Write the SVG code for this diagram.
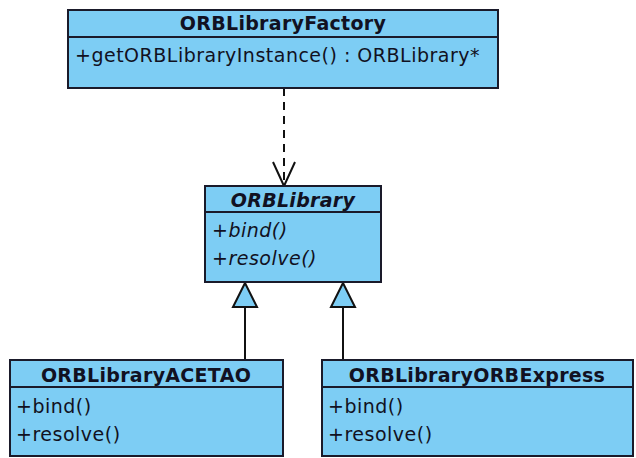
<svg xmlns="http://www.w3.org/2000/svg" width="636" height="458" viewBox="0 0 636 458">
<style>
.box{fill:#7dcdf4;stroke:#1a1a2a;stroke-width:2}
.sep{stroke:#1a1a2a;stroke-width:2}
.title{font-family:"DejaVu Sans",sans-serif;font-size:19px;font-weight:bold;fill:#111122;text-anchor:middle;letter-spacing:0.3px}
.op{font-family:"DejaVu Sans",sans-serif;font-size:19px;fill:#111122;letter-spacing:0.5px}
.it{font-style:italic}
.conn{stroke:#111;stroke-width:2;fill:none}
</style>
<rect width="636" height="458" fill="#fff"/>
<g id="connectors">
<line class="conn" x1="284" y1="88" x2="284" y2="185" stroke-dasharray="8,6"/>
<path class="conn" d="M273,162 L284,186 L295,162"/>
<line class="conn" x1="245" y1="307" x2="245" y2="360"/>
<polygon points="245,283 233,307 257,307" fill="#7dcdf4" stroke="#111" stroke-width="2"/>
<line class="conn" x1="343" y1="307" x2="343" y2="360"/>
<polygon points="343,283 331,307 355,307" fill="#7dcdf4" stroke="#111" stroke-width="2"/>
</g>
<g id="ORBLibraryFactory">
<rect class="box" x="68" y="10" width="430" height="78"/>
<line class="sep" x1="68" y1="37" x2="498" y2="37"/>
<text class="title" x="283" y="30">ORBLibraryFactory</text>
<text class="op" x="75" y="62">+getORBLibraryInstance() : ORBLibrary*</text>
</g>
<g id="ORBLibrary">
<rect class="box" x="205" y="186" width="176" height="96"/>
<line class="sep" x1="205" y1="212" x2="381" y2="212"/>
<text class="title it" x="293" y="207">ORBLibrary</text>
<text class="op it" x="212" y="237">+bind()</text>
<text class="op it" x="212" y="265">+resolve()</text>
</g>
<g id="ORBLibraryACETAO">
<rect class="box" x="10" y="360" width="273" height="96"/>
<line class="sep" x1="10" y1="387" x2="283" y2="387"/>
<text class="title" x="146" y="382">ORBLibraryACETAO</text>
<text class="op" x="16" y="413">+bind()</text>
<text class="op" x="16" y="441">+resolve()</text>
</g>
<g id="ORBLibraryORBExpress">
<rect class="box" x="322" y="360" width="311" height="96"/>
<line class="sep" x1="322" y1="387" x2="633" y2="387"/>
<text class="title" x="477" y="382">ORBLibraryORBExpress</text>
<text class="op" x="328" y="413">+bind()</text>
<text class="op" x="328" y="441">+resolve()</text>
</g>
</svg>
